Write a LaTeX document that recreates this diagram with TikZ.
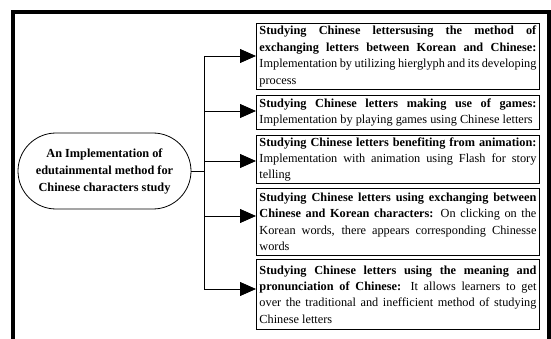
\documentclass[tikz,border=0pt]{standalone}
\usepackage{fontspec}
\setmainfont{Liberation Serif}
\usetikzlibrary{arrows.meta,shapes.misc}
\begin{document}
\begin{tikzpicture}[x=1pt,y=-1pt,
  box/.style={draw, line width=0.9pt, text width=277pt, inner xsep=3pt, inner ysep=0.5pt,
    align=justify, font=\fontsize{12.3}{16.4}\selectfont, anchor=north west},
  oval/.style={draw, line width=0.8pt, rounded rectangle, minimum width=175pt, minimum height=76pt,
    align=center, font=\bfseries\fontsize{12.3}{17}\selectfont, inner sep=1pt},
  arr/.style={line width=0.8pt, -{Triangle[length=16pt,width=14pt]}},
  ln/.style={line width=0.8pt},
  frame/.style={line width=4pt}]
\fill[white] (0,0) rectangle (551,339);
\useasboundingbox (0,0) rectangle (551,339);
\draw[frame] (12.5,339) -- (12.5,12.5) -- (548.5,12.5) -- (548.5,339);

\node[oval] (root) at (104.5,171) {An Implementation of\\edutainmental method for\\Chinese characters study};

\node[box, minimum height=66pt] (b1) at (256,23) {\textbf{Studying Chinese lettersusing the method of}\linebreak\textbf{exchanging letters between Korean and Chinese:}\linebreak Implementation by utilizing hierglyph and its developing\linebreak process};
\node[box, minimum height=34pt] (b2) at (256,95) {\textbf{Studying Chinese letters making use of games:}\linebreak Implementation by playing games using Chinese letters};
\node[box, minimum height=48pt] (b3) at (256,135) {\textbf{Studying Chinese letters benefiting from animation:}\linebreak Implementation with animation using Flash for story\linebreak telling};
\node[box, minimum height=67pt] (b4) at (256,188) {\textbf{Studying Chinese letters using exchanging between}\linebreak\textbf{Chinese and Korean characters:} On clicking on the\linebreak Korean words, there appears corresponding Chinesse\linebreak words};
\node[box, minimum height=70pt] (b5) at (256,259) {\textbf{Studying Chinese letters using the meaning and}\linebreak\textbf{pronunciation of Chinese:} It allows learners to get\linebreak over the traditional and inefficient method of studying\linebreak Chinese letters};

\coordinate (j0) at (204,171);
\coordinate (j1) at (204,56);
\coordinate (j2) at (204,111);
\coordinate (j3) at (204,161);
\coordinate (j4) at (204,216);
\coordinate (j5) at (204,289);

\draw[ln] (root.east) -- (j0);
\draw[ln] (j1) -- (j5);
\draw[arr] (j1) -- (j1 -| b1.west);
\draw[arr] (j2) -- (j2 -| b2.west);
\draw[arr] (j3) -- (j3 -| b3.west);
\draw[arr] (j4) -- (j4 -| b4.west);
\draw[arr] (j5) -- (j5 -| b5.west);
\end{tikzpicture}
\end{document}
